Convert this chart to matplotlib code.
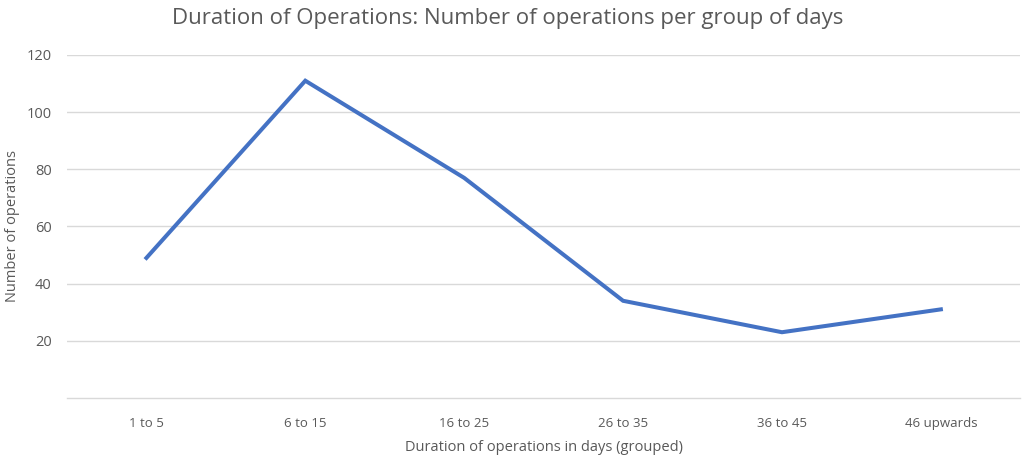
import matplotlib.pyplot as plt

plt.rcParams['font.family'] = ['Open Sans', 'DejaVu Sans']

# Data
categories = ['1 to 5', '6 to 15', '16 to 25', '26 to 35', '36 to 45', '46 upwards']
operations = [49, 111, 77, 34, 23, 31]
y_ticks = [20, 40, 60, 80, 100, 120]

text_col = '#595959'
grid_col = '#D9D9D9'

fig = plt.figure(figsize=(10.24, 4.66), dpi=100)
ax = fig.add_axes([0.0654, 0.146, 0.931, 0.736])

x = range(len(categories))
ax.plot(x, operations, color='#4472C4', linewidth=2.9, solid_joinstyle='miter')

ax.set_xlim(-0.5, len(categories) - 0.5)
ax.set_ylim(0, 120)
ax.set_xticks(list(x))
ax.set_xticklabels(categories)
ax.set_yticks(y_ticks)

ax.grid(axis='y', color=grid_col, linewidth=1)
ax.set_axisbelow(True)
for side in ['top', 'right', 'left']:
    ax.spines[side].set_visible(False)
ax.spines['bottom'].set_color(grid_col)
ax.spines['bottom'].set_linewidth(1)
ax.tick_params(axis='both', length=0, labelsize=9.5, colors=text_col)
ax.tick_params(axis='y', labelsize=10.5)
ax.tick_params(axis='x', pad=14)
ax.tick_params(axis='y', pad=11)

ax.set_xlabel('Duration of operations in days (grouped)', fontsize=10.5,
              color=text_col)
ax.xaxis.set_label_coords(0.5, -0.122)
ax.set_ylabel('Number of operations', fontsize=10.5, color=text_col)
ax.yaxis.set_label_coords(-0.049, 0.5)
fig.text(0.496, 0.96, 'Duration of Operations: Number of operations per group of days',
         ha='center', va='center', fontsize=16, color=text_col)

fig.savefig('out.png', dpi=100)
